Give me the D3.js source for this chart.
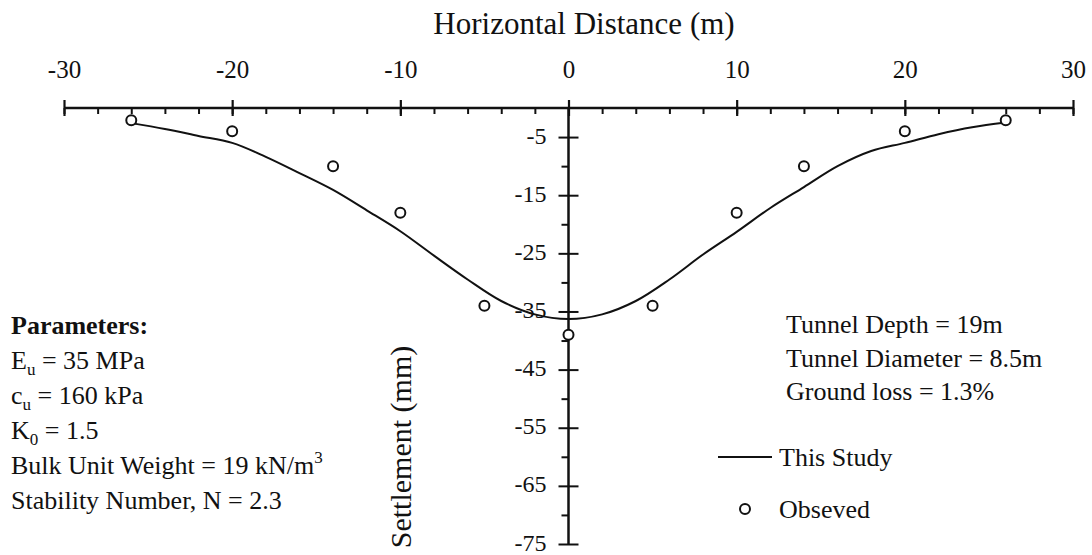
<!DOCTYPE html>
<html>
<head>
<meta charset="utf-8">
<script src="https://cdn.jsdelivr.net/npm/d3@7"></script>
<style>
body { margin: 0; background: #fff; }
svg text { font-family: "Liberation Serif", "Times New Roman", serif; fill: #111; }
</style>
</head>
<body>
<div id="chart"></div>
<script>
// Values.
var xTicks = [-30, -20, -10, 0, 10, 20, 30];
var yTicks = [-5, -15, -25, -35, -45, -55, -65, -75];
var yMinor = [-10, -20, -30, -40, -50, -60, -70];

// "This Study" curve
var studyX = [-26, -24, -22, -20, -18, -16, -14, -12, -10, -8, -6, -4, -2, 0, 2, 4, 6, 8, 10, 12, 14, 16, 18, 20, 22, 24, 26];
var studyY = [-2.6, -3.6, -4.8, -6.0, -8.4, -11.2, -14.1, -17.6, -21.2, -25.4, -29.5, -33.2, -35.5, -36.3, -35.5, -33.2, -29.5, -25.2, -21.3, -17.2, -13.6, -10.0, -7.4, -6.0, -4.5, -3.3, -2.5];

// "Obseved" points
var obsX = [-26, -20, -14, -10, -5, 0, 5, 10, 14, 20, 26];
var obsY = [-2.1, -4, -10, -18, -34, -39, -34, -18, -10, -4, -2.1];

var W = 1092, H = 555;
var svg = d3.select('#chart').append('svg')
    .attr('width', W)
    .attr('height', H);

var x = d3.scaleLinear().domain([-30, 30]).range([64, 1073]);
var y = d3.scaleLinear().domain([0, -75]).range([108, 544]);

/**
  * Draws the top (horizontal) axis with crossing major ticks.
  */
function drawTopAxis(){
    var g = svg.append('g').attr('transform', 'translate(0,' + y(0) + ')');
    g.call(d3.axisTop(x).tickValues(xTicks).tickSize(8).tickPadding(22)
        .tickFormat(d3.format('d')));
    g.select('.domain').remove();
    g.selectAll('.tick line').attr('y2', 8).attr('y1', -8)
        .attr('stroke', '#111').attr('stroke-width', 2.2);
    g.selectAll('.tick text').style('font-size', '25px')
        .text(function(d){ return d < 0 ? '-' + Math.abs(d) : d; });
    // minor ticks, every 2 m
    var minor = svg.append('g').attr('transform', 'translate(0,' + y(0) + ')');
    minor.call(d3.axisBottom(x).ticks(30).tickSize(6).tickFormat(''));
    minor.select('.domain').remove();
    minor.selectAll('.tick line').attr('stroke', '#111').attr('stroke-width', 2);
    svg.append('line')
        .attr('x1', x(-30)).attr('x2', x(30))
        .attr('y1', y(0)).attr('y2', y(0))
        .attr('stroke', '#111').attr('stroke-width', 2.5);
}

/**
  * Draws the vertical axis through x = 0.
  */
function drawLeftAxis(){
    var g = svg.append('g').attr('transform', 'translate(' + x(0) + ',0)');
    g.call(d3.axisLeft(y).tickValues(yTicks).tickSize(10).tickPadding(12));
    g.select('.domain').remove();
    g.selectAll('.tick line').attr('x1', 10)
        .attr('stroke', '#111').attr('stroke-width', 2);
    g.selectAll('.tick text').style('font-size', '24px')
        .attr('dy', '0.25em')
        .text(function(d){ return '-' + Math.abs(d); });
    var minor = svg.append('g').attr('transform', 'translate(' + x(0) + ',0)');
    minor.call(d3.axisLeft(y).tickValues(yMinor).tickSize(7).tickFormat(''));
    minor.select('.domain').remove();
    minor.selectAll('.tick line').attr('stroke', '#111').attr('stroke-width', 2);
    svg.append('line')
        .attr('x1', x(0)).attr('x2', x(0))
        .attr('y1', y(0)).attr('y2', y(-75))
        .attr('stroke', '#111').attr('stroke-width', 2.5);
}

drawTopAxis();
drawLeftAxis();

// axis titles
svg.append('text')
    .attr('x', 584).attr('y', 34)
    .attr('text-anchor', 'middle')
    .style('font-size', '31px')
    .text('Horizontal Distance (m)');

svg.append('text')
    .attr('transform', 'translate(411,447) rotate(-90)')
    .attr('text-anchor', 'middle')
    .style('font-size', '30px')
    .text('Settlement (mm)');

// curve
var line = d3.line()
    .x(function(d){ return x(d[0]); })
    .y(function(d){ return y(d[1]); })
    .curve(d3.curveCatmullRom);
svg.append('path')
    .datum(d3.zip(studyX, studyY))
    .attr('d', line)
    .attr('fill', 'none')
    .attr('stroke', '#111')
    .attr('stroke-width', 2);

// observed points
svg.selectAll('.obs')
    .data(d3.zip(obsX, obsY))
    .enter().append('circle')
    .attr('class', 'obs')
    .attr('cx', function(d){ return x(d[0]); })
    .attr('cy', function(d){ return y(d[1]); })
    .attr('r', 5)
    .attr('fill', '#fff')
    .attr('stroke', '#111')
    .attr('stroke-width', 2);

// parameters block (left)
var pg = svg.append('g').style('font-size', '26px');
var lh = 35, top0 = 334;
pg.append('text').attr('x', 11).attr('y', top0)
    .style('font-weight', 'bold').text('Parameters:');

function subLine(row, main, sub, rest){
    var t = pg.append('text').attr('x', 11).attr('y', top0 + lh * row);
    t.append('tspan').text(main);
    t.append('tspan').attr('dy', 6).style('font-size', '17px').text(sub);
    t.append('tspan').attr('dy', -6).text(rest);
}
subLine(1, 'E', 'u', ' = 35 MPa');
subLine(2, 'c', 'u', ' = 160 kPa');
subLine(3, 'K', '0', ' = 1.5');
var bw = pg.append('text').attr('x', 11).attr('y', top0 + lh * 4);
bw.append('tspan').text('Bulk Unit Weight = 19 kN/m');
bw.append('tspan').attr('dy', -11).style('font-size', '17px').text('3');
pg.append('text').attr('x', 11).attr('y', top0 + lh * 5)
    .text('Stability Number, N = 2.3');

// tunnel info (right)
var info = ['Tunnel Depth = 19m', 'Tunnel Diameter = 8.5m', 'Ground loss = 1.3%'];
svg.selectAll('.info')
    .data(info)
    .enter().append('text')
    .attr('class', 'info')
    .attr('x', 786)
    .attr('y', function(d, i){ return 333 + i * 33.5; })
    .style('font-size', '26px')
    .text(function(d){ return d; });

// legend
svg.append('line')
    .attr('x1', 718).attr('x2', 772)
    .attr('y1', 457).attr('y2', 457)
    .attr('stroke', '#111').attr('stroke-width', 2);
svg.append('text').attr('x', 779).attr('y', 466)
    .style('font-size', '26px').text('This Study');
svg.append('circle')
    .attr('cx', 745).attr('cy', 509).attr('r', 5)
    .attr('fill', '#fff').attr('stroke', '#111').attr('stroke-width', 2);
svg.append('text').attr('x', 779).attr('y', 518)
    .style('font-size', '26px').text('Obseved');
</script>
</body>
</html>
